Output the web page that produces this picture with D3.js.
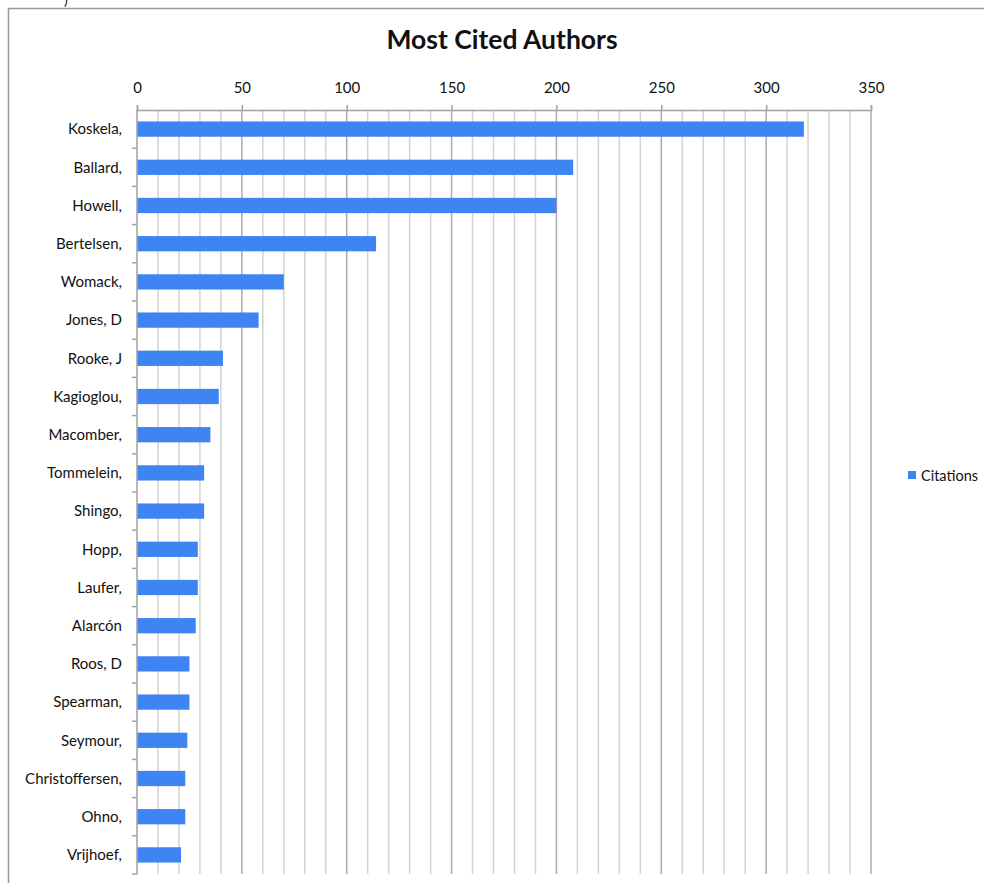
<!DOCTYPE html>
<html>
<head>
<meta charset="utf-8">
<script src="https://cdn.jsdelivr.net/npm/d3@7"></script>
<style>
  html, body { margin: 0; padding: 0; background: #fff; }
  svg { display: block; }
  text { font-family: Lato, "Open Sans", sans-serif; fill: #111; }
</style>
</head>
<body>
<svg id="chart" width="984" height="883"></svg>
<script>
const authors = ["Koskela,", "Ballard,", "Howell,", "Bertelsen,", "Womack,", "Jones, D", "Rooke, J", "Kagioglou,", "Macomber,", "Tommelein,", "Shingo,", "Hopp,", "Laufer,", "Alarcón", "Roos, D", "Spearman,", "Seymour,", "Christoffersen,", "Ohno,", "Vrijhoef,"];
const citations = [318, 208, 200, 114, 70, 58, 41, 39, 35, 32, 32, 29, 29, 28, 25, 25, 24, 23, 23, 21];
const majorTicks = [0, 50, 100, 150, 200, 250, 300, 350];
const minorTicks = d3.range(0, 351, 10);
const seriesName = "Citations";
const chartTitle = "Most Cited Authors";

(function () {
const svg = d3.select("#chart");
const pLeft = 137, pRight = 871, pTop = 110, pBottom = 874;

const x = d3.scaleLinear().domain([0, 350]).range([pLeft, pRight]);
const y = d3.scaleBand().domain(authors).range([pTop, pBottom]).paddingInner(0.6).paddingOuter(0.3);

// outer frame
svg.append("rect").attr("x", 8.5).attr("y", 8.5).attr("width", 1000).attr("height", 1000)
  .attr("fill", "none").attr("stroke", "#9a9a9a").attr("stroke-width", 1.5);

// stray fragment at top
svg.append("text").attr("x", 64).attr("y", 5).attr("font-size", 14).text(")");

// title
svg.append("text").attr("x", 502).attr("y", 49).attr("text-anchor", "middle")
  .attr("font-size", 26.5).attr("font-weight", "bold").text(chartTitle);

// gridlines
svg.append("g").selectAll("line").data(minorTicks.filter(d => d % 50 !== 0)).join("line")
  .attr("x1", d => x(d)).attr("x2", d => x(d)).attr("y1", pTop).attr("y2", pBottom)
  .attr("stroke", "#d3d3d3").attr("stroke-width", 1.5);
svg.append("g").selectAll("line").data(majorTicks.filter(d => d > 0)).join("line")
  .attr("x1", d => x(d)).attr("x2", d => x(d)).attr("y1", pTop).attr("y2", pBottom)
  .attr("stroke", "#ababab").attr("stroke-width", 1.5);

// top axis
const xAxis = d3.axisTop(x).tickValues(majorTicks).tickSize(5).tickPadding(12).tickFormat(d3.format("d"));
const gx = svg.append("g").attr("transform", `translate(0,${pTop})`).call(xAxis);
gx.select(".domain").attr("stroke", "#a0a0a0").attr("stroke-width", 1.5);
gx.selectAll(".tick line").attr("stroke", "#a0a0a0").attr("stroke-width", 1.5);
gx.selectAll(".tick text").attr("font-size", 15).attr("fill", "#111")
  .attr("font-family", "Lato, 'Open Sans', sans-serif");

// bars
svg.append("g").selectAll("rect").data(authors).join("rect")
  .attr("x", x(0)).attr("y", d => y(d))
  .attr("width", (d, i) => x(citations[i]) - x(0)).attr("height", y.bandwidth())
  .attr("fill", "#3f84f3");

// left axis
const step = (pBottom - pTop) / authors.length;
const gy = svg.append("g");
gy.append("line").attr("x1", pLeft).attr("x2", pLeft).attr("y1", pTop).attr("y2", pBottom)
  .attr("stroke", "#a0a0a0").attr("stroke-width", 1.5);
gy.selectAll("line.t").data(d3.range(1, authors.length + 1)).join("line").attr("class", "t")
  .attr("x1", pLeft - 5).attr("x2", pLeft).attr("y1", k => pTop + k * step).attr("y2", k => pTop + k * step)
  .attr("stroke", "#a0a0a0").attr("stroke-width", 1.5);
gy.selectAll("text").data(authors).join("text")
  .attr("x", 122).attr("y", d => y(d) + y.bandwidth() / 2).attr("dy", "0.35em")
  .attr("text-anchor", "end").attr("font-size", 15).text(d => d);

// legend
svg.append("rect").attr("x", 908).attr("y", 471).attr("width", 8).attr("height", 8).attr("fill", "#3f84f3");
svg.append("text").attr("x", 921).attr("y", 476).attr("dy", "0.35em").attr("font-size", 14.5).text(seriesName);
})();
</script>
</body>
</html>
